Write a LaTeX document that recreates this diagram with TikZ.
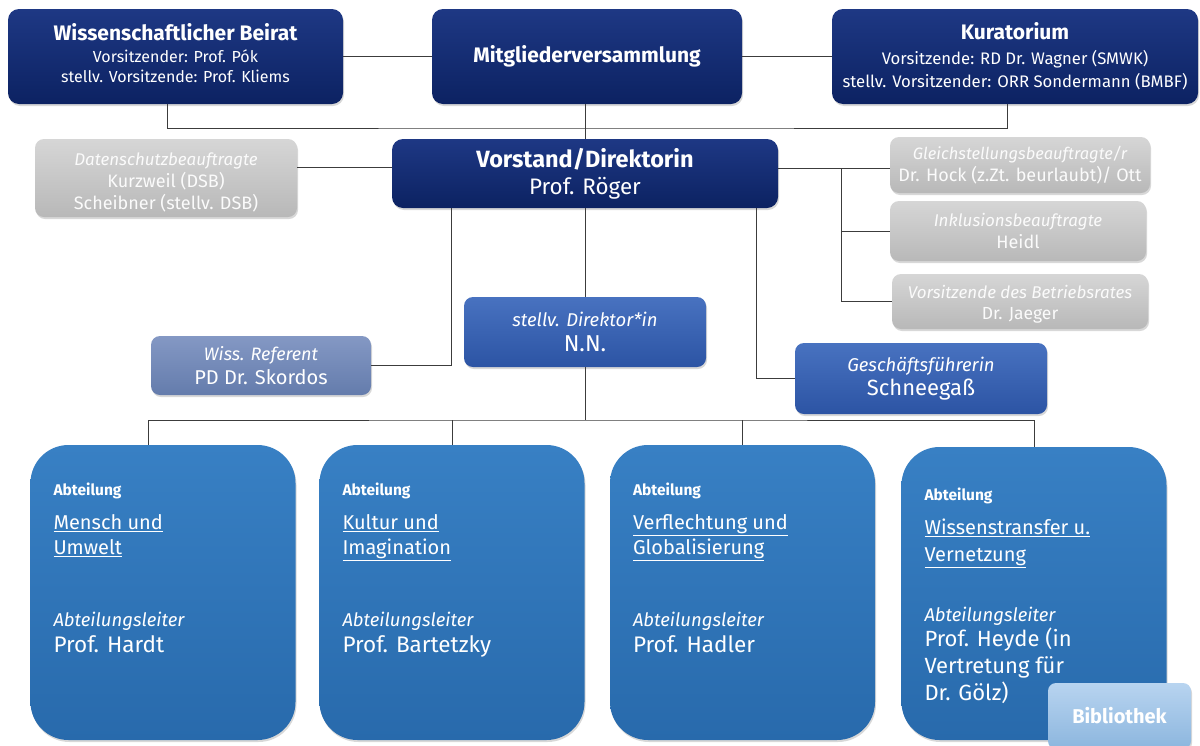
\documentclass[tikz,border=0pt]{standalone}
\usepackage{fontspec}
\setmainfont{Fira Sans}
\usetikzlibrary{shadows}

\definecolor{navyT}{RGB}{30,56,132}
\definecolor{navyB}{RGB}{12,34,98}
\definecolor{grayT}{RGB}{214,214,214}
\definecolor{grayB}{RGB}{184,184,184}
\definecolor{refT}{RGB}{132,152,196}
\definecolor{refB}{RGB}{100,124,172}
\definecolor{midT}{RGB}{72,114,192}
\definecolor{midB}{RGB}{44,84,164}
\definecolor{deptT}{RGB}{56,128,196}
\definecolor{deptB}{RGB}{40,106,172}
\definecolor{bibT}{RGB}{184,212,240}
\definecolor{bibB}{RGB}{140,182,222}
\definecolor{linegray}{RGB}{60,60,60}

\newcommand\setfs[2]{\fontsize{#1pt}{#2pt}\selectfont}

\begin{document}
\begin{tikzpicture}[x=1pt,y=-1pt,
    box/.style={rounded corners=11pt, text=white, align=center, inner sep=0pt,
      drop shadow={opacity=0.3,shadow xshift=1pt,shadow yshift=-2pt}},
    conn/.style={draw=linegray, line width=1pt}]

      \fill[white] (0,0) rectangle (1200,745);
      \useasboundingbox (0,0) rectangle (1200,745);

      % top level
      \begin{scope}[every node/.style={box,top color=navyT,bottom color=navyB,minimum height=95pt}]
        \node[minimum width=335pt,font=\setfs{16}{19.5},text depth=8pt] (beirat) at (175.5,56.5)
          {{\bfseries\setfs{21}{20}Wissenschaftlicher Beirat}\\[3pt]
           Vorsitzender: Prof. Pók\\stellv. Vorsitzende: Prof. Kliems};
        \node[minimum width=310pt] (mitglied) at (587,56.5)
          {\bfseries\setfs{21}{20}Mitgliederversammlung};
        \node[minimum width=366pt,font=\setfs{16.7}{23}] (kurat) at (1015,56.5)
          {{\bfseries\setfs{21}{20}Kuratorium}\\[2pt]
           Vorsitzende: RD Dr. Wagner (SMWK)\\stellv. Vorsitzender: ORR Sondermann (BMBF)};
        \node[minimum width=386pt,minimum height=69pt,font=\setfs{22.4}{27}] (vorstand) at (585,173.5)
          {{\bfseries\setfs{23.5}{20}Vorstand/Direktorin}\\Prof. Röger};
      \end{scope}

      % staff positions
      \begin{scope}[every node/.style={box,rounded corners=9pt,top color=grayT,bottom color=grayB,
          text=white!97!gray,font=\setfs{18}{22}}]
        \node[minimum width=262pt,minimum height=78pt,text height=66pt] (daten) at (166,178)
          {{\itshape\setfs{17}{20}Datenschutzbeauftragte}\\Kurzweil (DSB)\\Scheibner (stellv. DSB)};
        \node[minimum width=260pt,minimum height=56pt] (gleich) at (1020,165)
          {{\itshape\setfs{16.5}{20}Gleichstellungsbeauftragte/r}\\Dr. Hock (z.Zt. beurlaubt)/ Ott};
        \node[minimum width=256pt,minimum height=60pt] (inkl) at (1018,231)
          {{\itshape\setfs{17}{20}Inklusionsbeauftragte}\\Heidl};
        \node[minimum width=256pt,minimum height=55pt,font=\setfs{17.5}{21},text height=40pt] (betr) at (1020,301.5)
          {{\itshape\setfs{17}{20}Vorsitzende des Betriebsrates}\\Dr. Jaeger};
      \end{scope}

      \begin{scope}[every node/.style={box,rounded corners=9pt}]
        \node[top color=refT,bottom color=refB,minimum width=220pt,minimum height=59pt,
          font=\setfs{20}{24}] (wissref) at (261,365.5)
          {{\itshape\setfs{18}{20}Wiss. Referent}\\PD Dr. Skordos};
        \node[top color=midT,bottom color=midB,minimum width=242pt,minimum height=70pt,
          font=\setfs{23}{25}] (stellv) at (585,332)
          {{\itshape\setfs{18.5}{20}stellv. Direktor*in}\\N.N.};
        \node[top color=midT,bottom color=midB,minimum width=252pt,minimum height=71pt,
          font=\setfs{22}{24}] (gf) at (921,378.5)
          {{\itshape\setfs{18.5}{20}Geschäftsführerin}\\Schneegaß};
      \end{scope}

      % departments
      \begin{scope}[every node/.style={box,rounded corners=38pt,top color=deptT,bottom color=deptB,
          minimum width=265pt,minimum height=295pt}]
        \node (dep1) at (163,592.5) {};
        \node (dep2) at (452,592.5) {};
        \node (dep3) at (742.5,592.5) {};
        \node[minimum height=293pt] (dep4) at (1034,593.5) {};
      \end{scope}

      \begin{scope}[every node/.style={text=white,align=left,inner sep=0pt,anchor=north west,
          font=\setfs{20}{25}}]
        \node (dep1txt) at ([shift={(23,38)}]dep1.north west)
          {{\bfseries\setfs{15.5}{20}Abteilung}\\[9pt]\underline{Mensch und}\\\underline{Umwelt}\\[47pt]
           {\itshape\setfs{18.5}{20}Abteilungsleiter}\\[1pt]{\setfs{22.5}{20}Prof. Hardt}};
        \node (dep2txt) at ([shift={(23,38)}]dep2.north west)
          {{\bfseries\setfs{15.5}{20}Abteilung}\\[9pt]\underline{Kultur und}\\\underline{Imagination}\\[47pt]
           {\itshape\setfs{18.5}{20}Abteilungsleiter}\\[1pt]{\setfs{22.5}{20}Prof. Bartetzky}};
        \node (dep3txt) at ([shift={(23,38)}]dep3.north west)
          {{\bfseries\setfs{15.5}{20}Abteilung}\\[9pt]\underline{Verflechtung und}\\\underline{Globalisierung}\\[47pt]
           {\itshape\setfs{18.5}{20}Abteilungsleiter}\\[1pt]{\setfs{22.5}{20}Prof. Hadler}};
        \node[font=\setfs{22}{27}] (dep4txt) at ([shift={(23,41)}]dep4.north west)
          {{\bfseries\setfs{15.5}{20}Abteilung}\\[7pt]{\setfs{20}{20}\underline{Wissenstransfer u.}}\\
           {\setfs{20}{20}\underline{Vernetzung}}\\[33pt]
           {\itshape\setfs{18.5}{20}Abteilungsleiter}\\[-2pt]Prof. Heyde (in\\Vertretung für\\Dr. Gölz)};
      \end{scope}

      \node[box,rounded corners=8pt,top color=bibT,bottom color=bibB,minimum width=143pt,
        minimum height=66pt,font=\bfseries\setfs{20}{20}] (bib) at (1119.5,716) {Bibliothek};

      % connectors
      \coordinate (topbar) at (585,128);
      \coordinate (gltap) at (841,168);
      \coordinate (deptbar) at (585,420);
      \draw[conn] (beirat) -- (mitglied);
      \draw[conn] (mitglied) -- (kurat);
      \draw[conn] ([xshift=-8pt]beirat.south) |- (topbar) -| ([xshift=-8pt]kurat.south);
      \draw[conn] (mitglied.south -| topbar) -- (vorstand.north -| topbar);
      \draw[conn] (daten.east |- 0,167) -- (vorstand.west |- 0,167);
      \draw[conn] (vorstand.east |- gltap) -- (gleich.west |- gltap);
      \draw[conn] (gltap) |- (inkl.west);
      \draw[conn] (gltap) |- (betr.west);
      \draw[conn] (vorstand.south -| 451,0) |- (wissref.east);
      \draw[conn] (vorstand) -- (stellv);
      \draw[conn] (vorstand.south -| 756,0) |- (gf.west);
      \draw[conn] (stellv) -- (deptbar);
      \draw[conn] ([xshift=-15pt]dep1.north) |- (deptbar) -| (dep4.north);
      \foreach \d in {dep2,dep3}
        \draw[conn] (deptbar -| \d.north) -- (\d.north);

    \end{tikzpicture}
\end{document}
